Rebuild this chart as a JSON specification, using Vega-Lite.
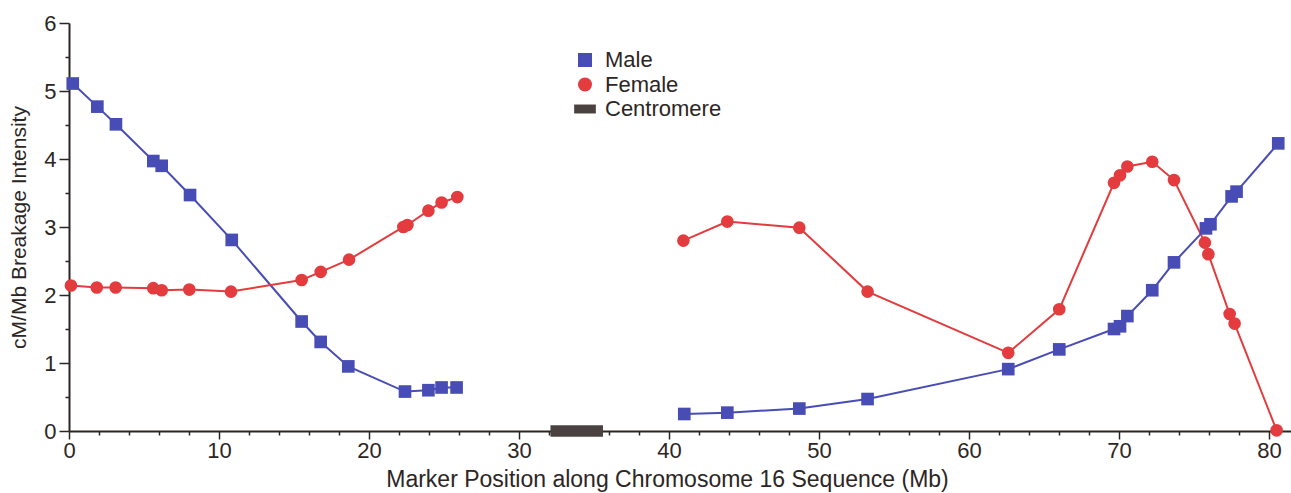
{
  "$schema": "https://vega.github.io/schema/vega-lite/v6.json",
  "width": 1222,
  "height": 408,
  "autosize": "none",
  "padding": {"left": 69, "top": 23, "right": 0, "bottom": 62},
  "background": "white",
  "config": {
    "view": {"stroke": null},
    "font": "Liberation Sans"
  },
  "datasets": {
    "points": [
      {"series": "Male", "seg": "p", "pos": 0.25, "val": 5.11},
      {"series": "Male", "seg": "p", "pos": 1.89, "val": 4.77},
      {"series": "Male", "seg": "p", "pos": 3.13, "val": 4.51},
      {"series": "Male", "seg": "p", "pos": 5.62, "val": 3.97},
      {"series": "Male", "seg": "p", "pos": 6.18, "val": 3.9},
      {"series": "Male", "seg": "p", "pos": 8.07, "val": 3.47},
      {"series": "Male", "seg": "p", "pos": 10.85, "val": 2.81},
      {"series": "Male", "seg": "p", "pos": 15.51, "val": 1.61},
      {"series": "Male", "seg": "p", "pos": 16.78, "val": 1.31},
      {"series": "Male", "seg": "p", "pos": 18.62, "val": 0.95},
      {"series": "Male", "seg": "p", "pos": 22.4, "val": 0.58},
      {"series": "Male", "seg": "p", "pos": 23.96, "val": 0.6},
      {"series": "Male", "seg": "p", "pos": 24.84, "val": 0.64},
      {"series": "Male", "seg": "p", "pos": 25.84, "val": 0.64},
      {"series": "Male", "seg": "q", "pos": 41.02, "val": 0.25},
      {"series": "Male", "seg": "q", "pos": 43.89, "val": 0.27},
      {"series": "Male", "seg": "q", "pos": 48.69, "val": 0.33},
      {"series": "Male", "seg": "q", "pos": 53.24, "val": 0.47},
      {"series": "Male", "seg": "q", "pos": 62.62, "val": 0.91},
      {"series": "Male", "seg": "q", "pos": 66.02, "val": 1.2},
      {"series": "Male", "seg": "q", "pos": 69.67, "val": 1.5},
      {"series": "Male", "seg": "q", "pos": 70.07, "val": 1.54},
      {"series": "Male", "seg": "q", "pos": 70.56, "val": 1.69},
      {"series": "Male", "seg": "q", "pos": 72.22, "val": 2.07},
      {"series": "Male", "seg": "q", "pos": 73.67, "val": 2.48},
      {"series": "Male", "seg": "q", "pos": 75.8, "val": 2.98},
      {"series": "Male", "seg": "q", "pos": 76.1, "val": 3.04},
      {"series": "Male", "seg": "q", "pos": 77.51, "val": 3.45},
      {"series": "Male", "seg": "q", "pos": 77.84, "val": 3.52},
      {"series": "Male", "seg": "q", "pos": 80.62, "val": 4.23},
      {"series": "Female", "seg": "p", "pos": 0.13, "val": 2.14},
      {"series": "Female", "seg": "p", "pos": 1.85, "val": 2.11},
      {"series": "Female", "seg": "p", "pos": 3.11, "val": 2.11},
      {"series": "Female", "seg": "p", "pos": 5.62, "val": 2.1},
      {"series": "Female", "seg": "p", "pos": 6.18, "val": 2.07},
      {"series": "Female", "seg": "p", "pos": 8.02, "val": 2.08},
      {"series": "Female", "seg": "p", "pos": 10.8, "val": 2.05},
      {"series": "Female", "seg": "p", "pos": 15.51, "val": 2.22},
      {"series": "Female", "seg": "p", "pos": 16.78, "val": 2.34},
      {"series": "Female", "seg": "p", "pos": 18.67, "val": 2.52},
      {"series": "Female", "seg": "p", "pos": 22.29, "val": 3.0},
      {"series": "Female", "seg": "p", "pos": 22.56, "val": 3.03},
      {"series": "Female", "seg": "p", "pos": 23.96, "val": 3.24},
      {"series": "Female", "seg": "p", "pos": 24.84, "val": 3.36},
      {"series": "Female", "seg": "p", "pos": 25.89, "val": 3.44},
      {"series": "Female", "seg": "q", "pos": 40.96, "val": 2.8},
      {"series": "Female", "seg": "q", "pos": 43.89, "val": 3.08},
      {"series": "Female", "seg": "q", "pos": 48.69, "val": 2.99},
      {"series": "Female", "seg": "q", "pos": 53.24, "val": 2.05},
      {"series": "Female", "seg": "q", "pos": 62.62, "val": 1.15},
      {"series": "Female", "seg": "q", "pos": 66.02, "val": 1.79},
      {"series": "Female", "seg": "q", "pos": 69.67, "val": 3.65},
      {"series": "Female", "seg": "q", "pos": 70.07, "val": 3.76},
      {"series": "Female", "seg": "q", "pos": 70.56, "val": 3.89},
      {"series": "Female", "seg": "q", "pos": 72.22, "val": 3.96},
      {"series": "Female", "seg": "q", "pos": 73.67, "val": 3.69},
      {"series": "Female", "seg": "q", "pos": 75.73, "val": 2.77},
      {"series": "Female", "seg": "q", "pos": 75.96, "val": 2.6},
      {"series": "Female", "seg": "q", "pos": 77.38, "val": 1.72},
      {"series": "Female", "seg": "q", "pos": 77.71, "val": 1.58},
      {"series": "Female", "seg": "q", "pos": 80.51, "val": 0.01}
    ],
    "centromere": [
      {"series": "Centromere", "start": 32.1, "end": 35.6, "low": -0.085, "high": 0.085}
    ]
  },
  "layer": [
    {
      "mark": {"type": "rule", "color": "#2b2624", "strokeWidth": 2},
      "encoding": {"y": {"datum": 6, "type": "quantitative"}}
    },
    {
      "data": {"name": "points"},
      "mark": {"type": "line", "strokeWidth": 2},
      "encoding": {
        "x": {"field": "pos", "type": "quantitative"},
        "y": {"field": "val", "type": "quantitative"},
        "color": {"field": "series", "type": "nominal"},
        "detail": {"field": "seg"},
        "order": {"field": "pos"}
      }
    },
    {
      "data": {"name": "points"},
      "mark": {"type": "point", "filled": true, "opacity": 1, "size": 160},
      "encoding": {
        "x": {"field": "pos", "type": "quantitative"},
        "y": {"field": "val", "type": "quantitative"},
        "color": {
          "field": "series", "type": "nominal",
          "scale": {"domain": ["Male", "Female", "Centromere"], "range": ["#484db5", "#e33b3e", "#4a4240"]},
          "legend": {
            "title": null, "orient": "none", "legendX": 505, "legendY": 26,
            "labelFontSize": 22, "labelColor": "#2b2624", "labelFont": "Liberation Sans",
            "symbolSize": 196, "symbolStrokeWidth": 0, "rowPadding": 2.5, "labelOffset": 9, "padding": 0,
            "symbolOpacity": 1
          }
        },
        "shape": {
          "field": "series", "type": "nominal",
          "scale": {"domain": ["Male", "Female", "Centromere"], "range": ["square", "circle", "M-1.55,-0.64H1.55V0.64H-1.55Z"]}
        }
      }
    },
    {
      "data": {"name": "centromere"},
      "mark": {"type": "rect"},
      "encoding": {
        "x": {"field": "start", "type": "quantitative"},
        "x2": {"field": "end"},
        "y": {"field": "low", "type": "quantitative"},
        "y2": {"field": "high"},
        "color": {"field": "series", "type": "nominal"}
      }
    }
  ],
  "encoding": {
    "x": {
      "type": "quantitative",
      "scale": {"domain": [0, 81.47], "nice": false, "zero": false},
      "axis": {
        "title": "Marker Position along Chromosome 16 Sequence (Mb)",
        "values": [0,2,4,6,8,10,12,14,16,18,20,22,24,26,28,30,32,34,36,38,40,42,44,46,48,50,52,54,56,58,60,62,64,66,68,70,72,74,76,78,80],
        "labelExpr": "datum.value % 10 === 0 ? format(datum.value, 'd') : ''",
        "tickSize": {"condition": {"test": "datum.value % 10 === 0", "value": 8}, "value": 4},
        "domainColor": "#2b2624", "domainWidth": 2, "tickColor": "#2b2624", "tickWidth": 1.5,
        "labelColor": "#2b2624", "titleColor": "#2b2624", "labelFont": "Liberation Sans", "titleFont": "Liberation Sans",
        "titleFontWeight": "normal", "grid": false, "labelFontSize": 22, "titleFontSize": 23,
        "labelPadding": 1, "titlePadding": 7, "titleX": 598, "titleAnchor": "start", "titleAlign": "center",
        "labelFlush": false, "labelOverlap": false
      }
    },
    "y": {
      "type": "quantitative",
      "scale": {"domain": [0, 6], "nice": false},
      "axis": {
        "title": "cM/Mb Breakage Intensity",
        "values": [0,0.5,1,1.5,2,2.5,3,3.5,4,4.5,5,5.5,6],
        "labelExpr": "datum.value % 1 === 0 ? format(datum.value, 'd') : ''",
        "tickSize": {"condition": {"test": "datum.value % 1 === 0", "value": 10}, "value": 4},
        "domainColor": "#2b2624", "domainWidth": 2, "tickColor": "#2b2624", "tickWidth": 1.5,
        "labelColor": "#2b2624", "titleColor": "#2b2624", "labelFont": "Liberation Sans", "titleFont": "Liberation Sans",
        "titleFontWeight": "normal", "grid": false, "labelFontSize": 22, "titleFontSize": 21,
        "labelPadding": 3, "titlePadding": 14, "labelFlush": false, "labelOverlap": false
      }
    }
  }
}
